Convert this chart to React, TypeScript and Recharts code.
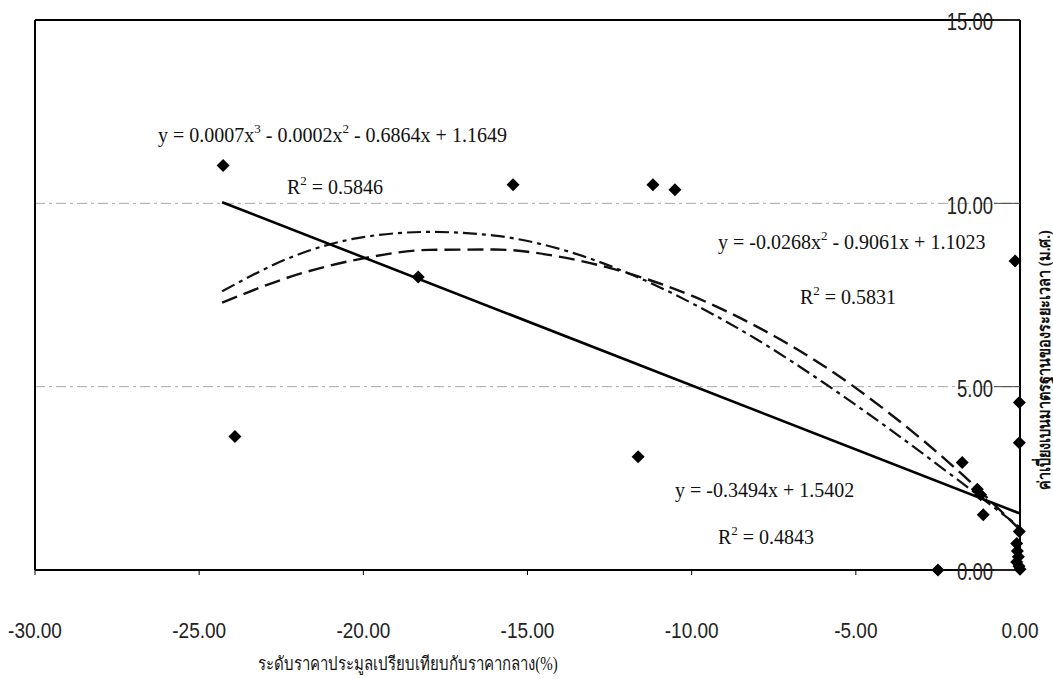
import {
  CartesianGrid,
  ComposedChart,
  Line,
  ReferenceLine,
  Scatter,
  XAxis,
  YAxis
} from "recharts";

// axis ticks
const xTicks = [-30, -25, -20, -15, -10, -5, 0];
const yTicks = [0, 5, 10, 15];

// observed points
const pointX = [
  -24.27, -23.91, -18.33, -15.44, -11.18, -10.51, -11.63, -2.5, -1.76, -1.3, -1.2, -1.12,
  -0.15, -0.02, -0.02, -0.02, -0.1, -0.08, -0.05, -0.1, -0.03, 0
];
const pointY = [
  11.03, 3.64, 7.99, 10.51, 10.51, 10.37, 3.09, 0, 2.93, 2.2, 2.05, 1.51,
  8.43, 4.57, 3.47, 1.05, 0.72, 0.52, 0.36, 0.22, 0.1, 0.02
];

// trend lines
const linearX = [-24.3, 0];
const linearY = [10.03, 1.54];

const curveX = [-24.3, -22, -20, -18, -16, -14, -12, -10, -8, -6, -4, -2, 0];
const quadY = [7.29, 8.06, 8.5, 8.73, 8.74, 8.54, 8.11, 7.48, 6.63, 5.58, 4.29, 2.8, 1.1];
const cubicY = [7.6, 8.6, 9.08, 9.22, 9.12, 8.75, 8.12, 7.28, 6.28, 5.12, 3.86, 2.53, 1.16];

const points = pointX.map((x, i) => ({ x, y: pointY[i] }));
const linearData = linearX.map((x, i) => ({ x, y: linearY[i] }));
const quadData = curveX.map((x, i) => ({ x, y: quadY[i] }));
const cubicData = curveX.map((x, i) => ({ x, y: cubicY[i] }));

const serif = "'Liberation Serif', 'Times New Roman', serif";
const sans = "'Liberation Sans', Arial, sans-serif";

function Diamond({ cx, cy }: { cx?: number; cy?: number }) {
  if (cx == null || cy == null) return null;
  const r = 6.5;
  return (
    <polygon
      points={`${cx},${cy - r} ${cx + r},${cy} ${cx},${cy + r} ${cx - r},${cy}`}
      fill="#000"
    />
  );
}

function XTick({ x, y, payload }: any) {
  return (
    <text
      transform={`translate(${x},${y + 53}) scale(1,1.2)`}
      textAnchor="middle"
      dominantBaseline="central"
      fontFamily={sans}
      fontSize={19}
      fill="#222"
    >
      {Number(payload.value).toFixed(2)}
    </text>
  );
}

function YTick({ x, y, payload }: any) {
  return (
    <text
      transform={`translate(${x},${y + 2}) scale(1,1.25)`}
      textAnchor="end"
      dominantBaseline="central"
      fontFamily={sans}
      fontSize={18.5}
      fill="#222"
    >
      {Number(payload.value).toFixed(2)}
    </text>
  );
}

function Note({ left, top, children }: { left: number; top: number; children: any }) {
  return (
    <div
      style={{
        position: "absolute",
        left,
        top: top - 12,
        lineHeight: "24px",
        fontFamily: serif,
        fontSize: 20,
        color: "#111",
        whiteSpace: "nowrap"
      }}
    >
      {children}
    </div>
  );
}

function Sup({ children }: { children: any }) {
  return (
    <span style={{ position: "relative", top: -9, fontSize: 13 }}>{children}</span>
  );
}

export default function App() {
  return (
    <div
      style={{
        position: "absolute",
        left: 0,
        top: 0,
        width: 1053,
        height: 679,
        background: "#fff",
        overflow: "hidden"
      }}
    >
      <ComposedChart
        width={1053}
        height={679}
        margin={{ top: 20, right: 33, bottom: 79, left: 35 }}
      >
        <CartesianGrid
          vertical={false}
          stroke="#a8a8a8"
          strokeDasharray="10 4 3 4"
        />
        <XAxis
          dataKey="x"
          type="number"
          domain={[-30, 0]}
          ticks={xTicks}
          height={30}
          tick={<XTick />}
          tickSize={5}
          axisLine={{ stroke: "#000", strokeWidth: 2 }}
          tickLine={{ stroke: "#000" }}
        />
        <YAxis
          type="number"
          orientation="right"
          mirror
          domain={[0, 15]}
          ticks={yTicks}
          tick={<YTick />}
          tickSize={26}
          tickMargin={1}
          axisLine={{ stroke: "#000", strokeWidth: 2 }}
          tickLine={{ stroke: "#444" }}
        />
        <ReferenceLine y={15} stroke="#000" strokeWidth={2} />
        <ReferenceLine x={-30} stroke="#000" strokeWidth={2} />
        <Line
          data={cubicData}
          dataKey="y"
          type="monotone"
          stroke="#111"
          strokeWidth={2.2}
          strokeDasharray="14 5 4 5"
          dot={false}
          isAnimationActive={false}
        />
        <Line
          data={quadData}
          dataKey="y"
          type="monotone"
          stroke="#111"
          strokeWidth={2.4}
          strokeDasharray="16 7"
          dot={false}
          isAnimationActive={false}
        />
        <Line
          data={linearData}
          dataKey="y"
          type="linear"
          stroke="#000"
          strokeWidth={2.6}
          dot={false}
          isAnimationActive={false}
        />
        <Scatter
          data={points}
          dataKey="y"
          shape={(props: any) => <Diamond cx={props.cx} cy={props.cy} />}
          isAnimationActive={false}
        />
      </ComposedChart>

      <Note left={158} top={135}>
        y = 0.0007x<Sup>3</Sup> - 0.0002x<Sup>2</Sup> - 0.6864x + 1.1649
      </Note>
      <Note left={287} top={187}>
        R<Sup>2</Sup> = 0.5846
      </Note>
      <Note left={718} top={242}>
        y = -0.0268x<Sup>2</Sup> - 0.9061x + 1.1023
      </Note>
      <Note left={800} top={297}>
        R<Sup>2</Sup> = 0.5831
      </Note>
      <Note left={675} top={490}>
        y = -0.3494x + 1.5402
      </Note>
      <Note left={718} top={537}>
        R<Sup>2</Sup> = 0.4843
      </Note>

      <div
        style={{
          position: "absolute",
          left: 408,
          top: 664,
          transform: "translate(-50%, -50%) scale(1, 1.25)",
          fontFamily: serif,
          fontSize: 15,
          color: "#111",
          whiteSpace: "nowrap"
        }}
      >
        ระดับราคาประมูลเปรียบเทียบกับราคากลาง(%)
      </div>
      <div
        style={{
          position: "absolute",
          left: 1043,
          top: 360,
          transform: "translate(-50%, -50%) rotate(-90deg) scale(1, 1.2)",
          fontFamily: serif,
          fontSize: 14.5,
          fontWeight: 700,
          color: "#111",
          whiteSpace: "nowrap"
        }}
      >
        ค่าเบี่ยงเบนมาตรฐานของระยะเวลา (ม.ศ.)
      </div>
    </div>
  );
}
